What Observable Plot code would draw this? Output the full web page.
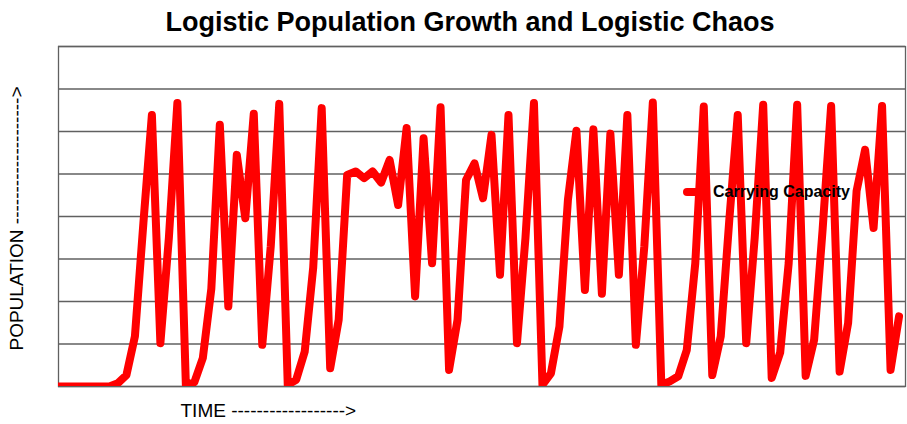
<!DOCTYPE html>
<html>
<head>
<meta charset="utf-8">
<script src="https://cdn.jsdelivr.net/npm/d3@7"></script>
<script src="https://cdn.jsdelivr.net/npm/@observablehq/plot@0.6"></script>
<style>
  html, body { margin: 0; padding: 0; background: #ffffff; }
  #wrap { position: relative; width: 907px; height: 424px; overflow: hidden; }
  #legend { position: absolute; left: 683px; top: 183px; display: flex; align-items: center;
            font-family: "Liberation Sans", Arial, sans-serif; font-weight: bold; font-size: 16px; color: #000; }
  #legend .sw { display: inline-block; width: 24px; height: 8px; border-radius: 4px; background: #ff0000; margin-right: 6px; }
</style>
</head>
<body>
<div id="wrap"><div id="legend"><span class="sw"></span><span id="legtext"></span></div></div>
<script>
// ---- data ----
const timeSteps = d3.range(100);
const population = [
  0, 0, 0, 0, 0, 0, 0, 0.08, 0.27, 1.18,
  3.85, 6.39, 1.02, 3.5, 6.67, 0.04, 0.1, 0.67, 2.3, 6.16,
  1.88, 5.45, 3.96, 6.42, 0.98, 3.3, 6.65, 0.04, 0.16, 0.82,
  2.8, 6.55, 0.43, 1.57, 4.98, 5.06, 4.9, 5.06, 4.8, 5.33,
  4.27, 6.08, 2.12, 5.84, 2.9, 6.57, 0.39, 1.57, 4.86, 5.25,
  4.43, 5.92, 2.63, 6.39, 1.02, 3.5, 6.67, 0.04, 0.31, 1.41,
  4.39, 6.02, 2.27, 6.05, 2.18, 5.95, 2.63, 6.39, 0.98, 3.3,
  6.68, 0.04, 0.12, 0.24, 0.86, 2.9, 6.59, 0.27, 1.18, 3.9,
  6.39, 1.02, 3.5, 6.63, 0.2, 0.8, 2.9, 6.63, 0.25, 1.1,
  3.7, 6.6, 0.35, 1.49, 4.6, 5.57, 3.73, 6.6, 0.39, 1.65
];
const gridLevels = [0, 1, 2, 3, 4, 5, 6, 7, 8];
const titleText = "Logistic Population Growth and Logistic Chaos";
const xLabel = "TIME ------------------>";
const yLabel = "POPULATION -------------------->";
const seriesName = "Carrying Capacity";

const rows = timeSteps.map((t, i) => ({ t, p: population[i] }));
const font = "Liberation Sans, Arial, sans-serif";

const chart = Plot.plot({
  width: 907,
  height: 424,
  marginLeft: 58,
  marginRight: 2,
  marginTop: 46,
  marginBottom: 38,
  style: { background: "#ffffff", fontFamily: font, overflow: "visible" },
  x: { domain: [0, 99.76], axis: null },
  y: { domain: [0, 8], axis: null },
  marks: [
    Plot.ruleY(gridLevels, { stroke: "#606060", strokeWidth: 1.3, strokeOpacity: 1 }),
    Plot.frame({ stroke: "#606060", strokeWidth: 1.3 }),
    Plot.line(rows, { x: "t", y: "p", stroke: "#ff0000", strokeWidth: 8, clip: true }),
    Plot.text([titleText], { text: d => d, frameAnchor: "top", dx: -12, dy: -35,
      fontSize: 27, fontWeight: "bold", fill: "#000", fontFamily: font }),
    Plot.text([xLabel], { text: d => d, frameAnchor: "bottom-left", dx: 122, dy: 30,
      textAnchor: "start", fontSize: 19, fill: "#000", fontFamily: font }),
    Plot.text([yLabel], { text: d => d, frameAnchor: "bottom-left", dx: -36, dy: -36,
      textAnchor: "start", rotate: -90, fontSize: 19, fill: "#000", fontFamily: font })
  ]
});
document.getElementById("wrap").prepend(chart);
document.getElementById("legtext").textContent = seriesName;
</script>
</body>
</html>
